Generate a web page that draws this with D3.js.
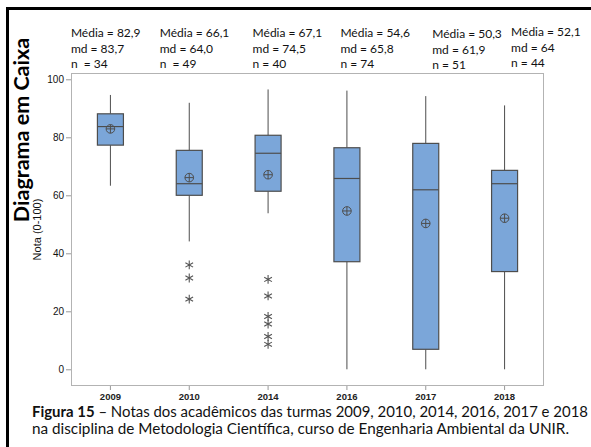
<!DOCTYPE html>
<html>
<head>
<meta charset="utf-8">
<script src="https://cdn.jsdelivr.net/npm/d3@7"></script>
<style>
  html, body { margin: 0; padding: 0; background: #fff; }
  svg { display: block; }
</style>
</head>
<body>
<svg id="fig" width="591" height="447"></svg>
<script>
// Turmas (classes) and their box-plot summaries, grade scale 0-100
const years = ["2009", "2010", "2014", "2016", "2017", "2018"];
const meanLabels = ["82,9", "66,1", "67,1", "54,6", "50,3", "52,1"];
const medianLabels = ["83,7", "64,0", "74,5", "65,8", "61,9", "64"];
const countLabels = ["n  = 34", "n  = 49", "n = 40", "n = 74", "n = 51", "n = 44"];
const means = [82.9, 66.1, 67.1, 54.6, 50.3, 52.1];
const medians = [83.7, 64.0, 74.5, 65.8, 61.9, 64];
const q1 = [77.3, 60.0, 61.4, 37.1, 6.9, 33.7];
const q3 = [88.1, 75.5, 80.7, 76.4, 77.9, 68.6];
const whiskerLow = [63.3, 44.1, 53.8, 0, 0, 0];
const whiskerHigh = [94.6, 91.9, 96.5, 96.1, 94.2, 91.0];
const outliers = [[], [36.0, 31.5, 24.2], [31.0, 25.3, 18.2, 15.6, 11.3, 8.6], [], [], []];
const yTicks = [0, 20, 40, 60, 80, 100];

// Layout of the statistics notes above each box (horizontal offset from the box centre, vertical nudge)
const noteDx = [-39.5, -29.5, -15.5, -6.5, 6.5, 6.5];
const noteDy = [0, 0, 0, 0, 1.3, -1.3];

const svg = d3.select("#fig");
const plot = { left: 71, top: 73, right: 544, bottom: 386 };

const x = d3.scaleBand().domain(years).range([plot.left, plot.right]).padding(0);
const y = d3.scaleLinear().domain([0, 100]).range([369.3, 79.3]);

const boxW = 26;
const boxFill = "#7ba6d9";
const ink = "#4d4d4d";

// Figure frame (thick black top and left rules)
svg.append("line").attr("x1", 6).attr("x2", 591).attr("y1", 8.5).attr("y2", 8.5)
  .attr("stroke", "#000").attr("stroke-width", 3);
svg.append("line").attr("x1", 7.5).attr("x2", 7.5).attr("y1", 7).attr("y2", 447)
  .attr("stroke", "#000").attr("stroke-width", 3);

// Plot frame
svg.append("rect")
  .attr("x", plot.left + 0.5).attr("y", plot.top + 0.5)
  .attr("width", plot.right - plot.left - 1).attr("height", plot.bottom - plot.top - 1)
  .attr("fill", "none").attr("stroke", "#b3b3b3").attr("stroke-width", 1);

// Axes
const yAxis = d3.axisLeft(y).tickValues(yTicks).tickSize(5).tickPadding(2);
const gy = svg.append("g").attr("transform", `translate(${plot.left},0)`).call(yAxis);
gy.select(".domain").remove();
gy.selectAll(".tick line").attr("stroke", "#999");
gy.selectAll(".tick text")
  .attr("font-family", "'Liberation Sans', Arial, sans-serif")
  .attr("font-size", 10).attr("fill", "#111");

const xAxis = d3.axisBottom(x).tickSize(4).tickPadding(3);
const gx = svg.append("g").attr("transform", `translate(0,${plot.bottom})`).call(xAxis);
gx.select(".domain").remove();
gx.selectAll(".tick line").attr("stroke", "#999");
gx.selectAll(".tick text")
  .attr("font-family", "'Liberation Sans', Arial, sans-serif")
  .attr("font-size", 9.5).attr("font-weight", "bold").attr("fill", "#222");

// Boxes
const rows = years.map((yr, i) => ({
  yr, i, q1: q1[i], q3: q3[i], med: medians[i], mean: means[i],
  lo: whiskerLow[i], hi: whiskerHigh[i], out: outliers[i]
}));
const cx = d => x(d.yr) + x.bandwidth() / 2;

const g = svg.append("g").selectAll("g").data(rows).join("g");

g.append("line").attr("x1", cx).attr("x2", cx)
  .attr("y1", d => y(d.hi)).attr("y2", d => y(d.q3))
  .attr("stroke", ink).attr("stroke-width", 1);
g.append("line").attr("x1", cx).attr("x2", cx)
  .attr("y1", d => y(d.q1)).attr("y2", d => y(d.lo))
  .attr("stroke", ink).attr("stroke-width", 1);

g.append("rect")
  .attr("x", d => cx(d) - boxW / 2).attr("width", boxW)
  .attr("y", d => y(d.q3)).attr("height", d => y(d.q1) - y(d.q3))
  .attr("fill", boxFill).attr("stroke", ink).attr("stroke-width", 1.2);

g.append("line")
  .attr("x1", d => cx(d) - boxW / 2).attr("x2", d => cx(d) + boxW / 2)
  .attr("y1", d => y(d.med)).attr("y2", d => y(d.med))
  .attr("stroke", ink).attr("stroke-width", 1.2);

// Mean symbol: circle with a cross
const r = 4.3;
g.append("circle").attr("cx", cx).attr("cy", d => y(d.mean)).attr("r", r)
  .attr("fill", "none").attr("stroke", ink).attr("stroke-width", 1);
g.append("path")
  .attr("d", d => {
    const px = cx(d), py = y(d.mean);
    return `M${px - r},${py}H${px + r}M${px},${py - r}V${py + r}`;
  })
  .attr("stroke", ink).attr("stroke-width", 1);

// Outliers drawn as asterisks
const sym = d3.symbol().type(d3.symbolAsterisk).size(55);
g.each(function (d) {
  d3.select(this).selectAll("path.out").data(d.out).join("path")
    .attr("class", "out")
    .attr("transform", v => `translate(${cx(d)},${y(v)})`)
    .attr("d", sym)
    .attr("fill", "none").attr("stroke", "#555").attr("stroke-width", 1.1);
});

// Statistics notes above the plot
const noteFont = "Lato, 'Open Sans', sans-serif";
const notes = svg.append("g").selectAll("text.note").data(rows).join("g")
  .attr("transform", d => `translate(${cx(d) + noteDx[d.i]},${noteDy[d.i]})`);
notes.append("text").attr("y", 37).text(d => `Média = ${meanLabels[d.i]}`);
notes.append("text").attr("y", 53).text(d => `md = ${medianLabels[d.i]}`);
notes.append("text").attr("y", 68).text(d => countLabels[d.i]).attr("xml:space", "preserve")
  .style("white-space", "pre");
notes.selectAll("text")
  .attr("font-family", noteFont).attr("font-size", 12).attr("fill", "#111");

// Axis titles
svg.append("text")
  .attr("transform", "translate(29,130) rotate(-90)")
  .attr("text-anchor", "middle")
  .attr("font-family", "Lato, 'Open Sans', sans-serif")
  .attr("font-weight", "bold").attr("font-size", 21.5).attr("fill", "#000")
  .text("Diagrama em Caixa");
svg.append("text")
  .attr("transform", `translate(41,${(plot.top + plot.bottom) / 2}) rotate(-90)`)
  .attr("text-anchor", "middle")
  .attr("font-family", "'Liberation Sans', Arial, sans-serif")
  .attr("font-size", 11).attr("fill", "#111")
  .text("Nota (0-100)");

// Caption
const cap = svg.append("g")
  .attr("font-family", "Lato, 'Open Sans', sans-serif")
  .attr("font-size", 14.5).attr("fill", "#111");
const l1 = cap.append("text").attr("x", 32).attr("y", 417)
  .attr("textLength", 556).attr("lengthAdjust", "spacingAndGlyphs");
l1.append("tspan").attr("font-weight", "bold").text("Figura 15");
l1.append("tspan").text(" – Notas dos acadêmicos das turmas 2009, 2010, 2014, 2016, 2017 e 2018");
cap.append("text").attr("x", 32).attr("y", 434)
  .attr("textLength", 537).attr("lengthAdjust", "spacingAndGlyphs")
  .text("na disciplina de Metodologia Científica, curso de Engenharia Ambiental da UNIR.");
</script>
</body>
</html>
